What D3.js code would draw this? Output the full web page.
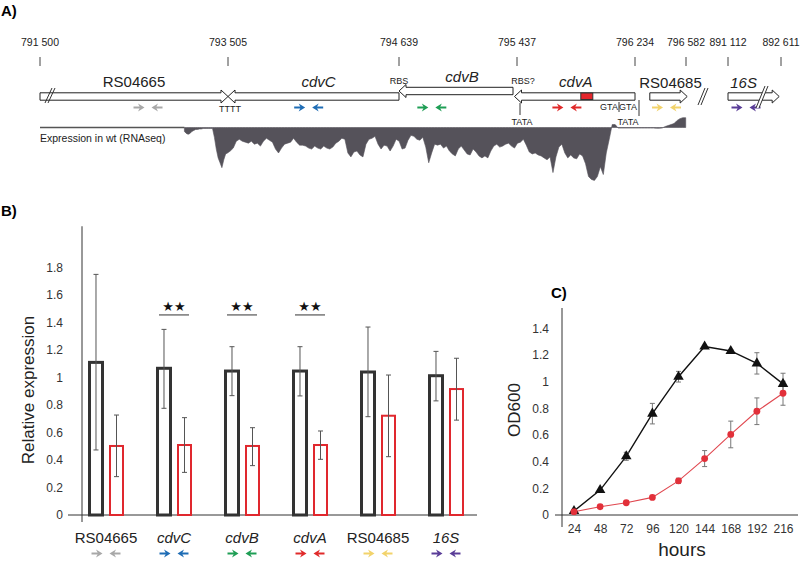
<!DOCTYPE html>
<html><head><meta charset="utf-8">
<script src="https://cdn.jsdelivr.net/npm/d3@7"></script>
<style>body{margin:0;background:#fff} svg{font-family:"Liberation Sans",Arial,sans-serif;display:block}</style>
</head><body><svg id="c" width="800" height="562"></svg>
<script>
// ---------- Panel A data ----------
const coordTicks = [791500, 793505, 794639, 795437, 796234, 796582];
const coordTicks16S = [891112, 892611];
const genes = ["RS04665", "cdvC", "cdvB", "cdvA", "RS04685", "16S"];
const geneStart = [791500, 793505, 794639, 795420, 796335, 891112];
const geneEnd = [793505, 794639, 795410, 796234, 796590, 892560];
const geneStrand = [1, -1, -1, -1, 1, 1];
const geneItalic = [false, true, true, true, false, true];
const primerCenters = [792652, 794040, 794861, 795774, 796449, 891621];
const primerColors = ["#a8a8a8", "#1f6db5", "#1f9e55", "#e02a2a", "#f2d36b", "#5a3d98"];
const covStart = 793040, covStep = 20;
const coverage = [
  4,6,7,6,4,3,2,2,1.5,1.5,
  1,1,1,1,1,1,10,22,31,36,
  41,33,27,26,24,21,14,12,14,15,
  16,14,17,16,19,14,11,13,15,22,
  26,21,17,16,15,11,15,18,18,19,
  21,22,19,21,22,19,21,22,20,16,
  14,11,12,26,30,25,24,28,30,17,
  12,11,9,17,22,18,19,24,19,12,
  14,22,21,13,8,9,12,13,10,20,
  36,26,17,18,17,21,19,24,27,29,
  22,19,23,27,28,22,25,29,31,29,
  31,24,19,17,20,19,17,16,19,21,
  16,15,12,18,25,27,26,28,29,31,
  33,30,46,30,20,17,26,31,28,31,
  32,27,29,37,50,53,54,50,40,48,
  26,12,-3,-3,0.6,0.6,0.6,0.6,0.6,0.6,
  0.6,0.6,0.6,0.6,0.6,0.6,0.6,0.8,0.8,0.5,
  -1,-2,-3,-4,-7,-9,-10,-10];
const redBoxStart = 795868, redBoxEnd = 795949;

// ---------- Panel B data ----------
const categories = genes;
const wtExpr = [1.11, 1.067, 1.047, 1.047, 1.04, 1.013];
const wtLo = [0.473, 0.776, 0.868, 0.866, 0.715, 0.83];
const wtHi = [1.75, 1.35, 1.224, 1.224, 1.367, 1.19];
const mutExpr = [0.502, 0.509, 0.502, 0.509, 0.722, 0.916];
const mutLo = [0.279, 0.31, 0.359, 0.405, 0.424, 0.69];
const mutHi = [0.727, 0.708, 0.635, 0.611, 1.018, 1.14];
const signif = ["cdvC", "cdvB", "cdvA"];
const yTicksB = [0, 0.2, 0.4, 0.6, 0.8, 1, 1.2, 1.4, 1.6, 1.8];

// ---------- Panel C data ----------
const hours = [24, 48, 72, 96, 120, 144, 168, 192, 216];
const odWt = [0.03, 0.187, 0.44, 0.76, 1.037, 1.263, 1.23, 1.137, 0.983];
const odWtErr = [0, 0, 0.03, 0.077, 0.04, 0, 0.01, 0.08, 0.08];
const odMut = [0.025, 0.062, 0.092, 0.132, 0.256, 0.423, 0.604, 0.778, 0.913];
const odMutErr = [0, 0, 0, 0, 0.02, 0.06, 0.1, 0.1, 0.09];
const yTicksC = [0, 0.2, 0.4, 0.6, 0.8, 1, 1.2, 1.4];

const svg = d3.select("#c");
const fmt = d => (d === 0 ? "0" : d3.format("~g")(d));
const fmtSpace = d => String(d).replace(/(\d{3})(\d{3})$/, "$1 $2");

function primerPair(g, cx, y, color) {
  [[-1, cx - 3.5], [1, cx + 3.5]].forEach(([dir, tip]) => {
    const tail = tip + dir * 11;
    g.append("line").attr("x1", tail).attr("x2", tip + dir * 4).attr("y1", y).attr("y2", y)
      .attr("stroke", color).attr("stroke-width", 2);
    g.append("path").attr("d",
      `M${tip},${y} L${tip + dir * 6.5},${y - 4} L${tip + dir * 4.5},${y} L${tip + dir * 6.5},${y + 4} Z`)
      .attr("fill", color);
  });
}

// ================= Panel A =================
const A = svg.append("g");
A.append("text").attr("x", 1).attr("y", 16).attr("font-size", 15).attr("font-weight", "bold").text("A)");
const xA = d3.scaleLinear().domain(coordTicks).range([40, 228, 399, 517, 635, 686]);
const xA16 = d3.scaleLinear().domain(coordTicks16S).range([728, 781]);
const xGene = bp => (bp > 800000 ? xA16(bp) : xA(bp));

const allTicks = coordTicks.concat(coordTicks16S);
allTicks.forEach(t => {
  const x = xGene(t);
  A.append("text").attr("x", x).attr("y", 46).attr("text-anchor", "middle").attr("font-size", 10.5)
    .attr("fill", "#222").text(fmtSpace(t));
  A.append("line").attr("x1", x).attr("x2", x).attr("y1", 57).attr("y2", 66).attr("stroke", "#444").attr("stroke-width", 1);
});

const laneY = [96.5, 96.5, 91, 96.5, 96.5, 96.5];
const labelY = [87, 87, 82, 87, 88, 88];
const labelDx = [0, 5, 6, 1, 2, -10];
genes.forEach((gname, i) => {
  const x0 = xGene(geneStart[i]), x1 = xGene(geneEnd[i]), y = laneY[i];
  const bh = 3.7, hh = 6.5, hl = 7;
  let d;
  if (geneStrand[i] > 0) {
    d = `M${x0},${y - bh} L${x1 - hl},${y - bh} L${x1 - hl},${y - hh} L${x1},${y} L${x1 - hl},${y + hh} L${x1 - hl},${y + bh} L${x0},${y + bh} Z`;
  } else {
    d = `M${x1},${y - bh} L${x0 + hl},${y - bh} L${x0 + hl},${y - hh} L${x0},${y} L${x0 + hl},${y + hh} L${x0 + hl},${y + bh} L${x1},${y + bh} Z`;
  }
  A.append("path").attr("d", d).attr("fill", "white").attr("fill-opacity", 0).attr("stroke", "#222").attr("stroke-width", 1);
  A.append("text").attr("x", (x0 + x1) / 2 + labelDx[i]).attr("y", labelY[i]).attr("text-anchor", "middle")
    .attr("font-size", 15).attr("font-style", geneItalic[i] ? "italic" : "normal").attr("fill", "#222").text(gname);
  primerPair(A, xGene(primerCenters[i]), 107.5, primerColors[i]);
});
// red box in cdvA
A.append("rect").attr("x", xA(redBoxStart)).attr("y", 93).attr("width", xA(redBoxEnd) - xA(redBoxStart)).attr("height", 6.5)
  .attr("fill", "#e5262c").attr("stroke", "#333").attr("stroke-width", 1);
// hatch on RS04665
A.append("path").attr("d", "M45,103 L52,88 M48,103 L55,88").attr("stroke", "#333").attr("stroke-width", 1).attr("fill", "none");
// hatch on 16S
A.append("path").attr("d", "M756,108 L765,86 L768,86 L759,108 Z").attr("fill", "white");
A.append("path").attr("d", "M756,108 L765,86 M759,108 L768,86").attr("stroke", "#333").attr("stroke-width", 1).attr("fill", "none");
// separator
A.append("path").attr("d", "M698,105 L705,88 M701,105 L708,88").attr("stroke", "#333").attr("stroke-width", 1).attr("fill", "none");

// small annotations
const small = (x, y, t, anchor = "middle") => A.append("text").attr("x", x).attr("y", y).attr("text-anchor", anchor)
  .attr("font-size", 9).attr("fill", "#222").text(t);
small(xA(793505) + 2, 112, "TTTT");
small(xA(794639), 84, "RBS");
small(xA(795437) + 6, 84, "RBS?");
small(xA(795437) + 5, 125, "TATA");
small(xA(796234) - 7, 110, "GTA");
small(xA(796234) - 26, 110, "GTA");
small(xA(796234) - 7, 125, "TATA");
A.append("line").attr("x1", xA(795437) + 3).attr("x2", xA(795437) + 3).attr("y1", 103).attr("y2", 115).attr("stroke", "#333");
A.append("line").attr("x1", xA(796234) - 16).attr("x2", xA(796234) - 16).attr("y1", 102).attr("y2", 112).attr("stroke", "#333");
A.append("line").attr("x1", xA(796234) + 4).attr("x2", xA(796234) + 4).attr("y1", 100).attr("y2", 116).attr("stroke", "#333");

// RNAseq coverage
const baseY = 127.5;
const covY = d3.scaleLinear().domain([0, 50]).range([baseY, baseY + 49]);
A.append("line").attr("x1", xA(791500)).attr("x2", xA(covStart)).attr("y1", baseY).attr("y2", baseY)
  .attr("stroke", "#555").attr("stroke-width", 1.6);
const area = d3.area().x((d, i) => xA(covStart + i * covStep)).y0(baseY).y1(d => covY(d));
A.append("path").datum(coverage).attr("d", area).attr("fill", "#55525a").attr("stroke", "#55525a").attr("stroke-width", 0.6);
A.append("text").attr("x", 40).attr("y", 142).attr("font-size", 10.5).attr("fill", "#222").text("Expression in wt (RNAseq)");

// ================= Panel B =================
const B = svg.append("g");
B.append("text").attr("x", 1).attr("y", 216).attr("font-size", 15).attr("font-weight", "bold").text("B)");
const x0B = d3.scaleBand().domain(categories).range([72, 480]).padding(0);
const x1B = d3.scaleBand().domain(["wt", "mut"]).range([17.5, 51]).paddingInner(0.366);
const yB = d3.scaleLinear().domain([0, 2.1]).range([515, 226.25]);

B.append("line").attr("x1", 82).attr("x2", 82).attr("y1", yB(2.1)).attr("y2", 522).attr("stroke", "#333").attr("stroke-width", 1);
B.append("line").attr("x1", 68).attr("x2", 477).attr("y1", yB(0)).attr("y2", yB(0)).attr("stroke", "#333").attr("stroke-width", 1);
const yAxB = B.append("g").attr("transform", "translate(63,0)")
  .call(d3.axisLeft(yB).tickValues(yTicksB).tickSize(0).tickPadding(0).tickFormat(fmt));
yAxB.select(".domain").remove();
yAxB.selectAll("text").attr("font-size", 12).attr("fill", "#333").attr("font-family", "Liberation Sans, Arial, sans-serif");
B.append("text").attr("transform", "translate(34,390) rotate(-90)").attr("text-anchor", "middle")
  .attr("font-size", 17).attr("fill", "#222").text("Relative expression");

categories.forEach((c, i) => {
  const gx = x0B(c);
  const bw = x1B.bandwidth();
  const wx = gx + x1B("wt"), mx = gx + x1B("mut");
  B.append("rect").attr("x", wx).attr("y", yB(wtExpr[i])).attr("width", bw).attr("height", yB(0) - yB(wtExpr[i]))
    .attr("fill", "white").attr("stroke", "#333").attr("stroke-width", 3);
  B.append("rect").attr("x", mx).attr("y", yB(mutExpr[i])).attr("width", bw).attr("height", yB(0) - yB(mutExpr[i]))
    .attr("fill", "white").attr("stroke", "#e0282e").attr("stroke-width", 2);
  [[wx + bw / 2, wtLo[i], wtHi[i]], [mx + bw / 2, mutLo[i], mutHi[i]]].forEach(([cx, lo, hi]) => {
    B.append("line").attr("x1", cx).attr("x2", cx).attr("y1", yB(lo)).attr("y2", yB(hi)).attr("stroke", "#555").attr("stroke-width", 1);
    [lo, hi].forEach(v => B.append("line").attr("x1", cx - 2.5).attr("x2", cx + 2.5).attr("y1", yB(v)).attr("y2", yB(v))
      .attr("stroke", "#555").attr("stroke-width", 1));
  });
  const center = gx + x0B.bandwidth() / 2;
  B.append("text").attr("x", center).attr("y", 543).attr("text-anchor", "middle").attr("font-size", 15)
    .attr("font-style", geneItalic[i] ? "italic" : "normal").attr("fill", "#222").text(c);
  primerPair(B, center, 553.5, primerColors[i]);
  if (signif.includes(c)) {
    B.append("line").attr("x1", center - 15).attr("x2", center + 15).attr("y1", yB(1.455)).attr("y2", yB(1.455))
      .attr("stroke", "#333").attr("stroke-width", 1);
    B.append("text").attr("x", center).attr("y", yB(1.455) - 4).attr("text-anchor", "middle").attr("font-size", 13)
      .attr("fill", "#111").attr("font-family", "DejaVu Sans").text("★★");
  }
});

// ================= Panel C =================
const C = svg.append("g");
C.append("text").attr("x", 551).attr("y", 298).attr("font-size", 15).attr("font-weight", "bold").text("C)");
const xC = d3.scaleLinear().domain([24, 216]).range([574, 783]);
const yC = d3.scaleLinear().domain([0, 1.4]).range([515, 328.3]);
C.append("line").attr("x1", 562).attr("x2", 562).attr("y1", 308).attr("y2", 527).attr("stroke", "#333");
C.append("line").attr("x1", 555).attr("x2", 798).attr("y1", yC(0)).attr("y2", yC(0)).attr("stroke", "#333");
const yAxC = C.append("g").attr("transform", "translate(549,0)")
  .call(d3.axisLeft(yC).tickValues(yTicksC).tickSize(0).tickPadding(0).tickFormat(fmt));
yAxC.select(".domain").remove();
yAxC.selectAll("text").attr("font-size", 12).attr("fill", "#333").attr("font-family", "Liberation Sans, Arial, sans-serif");
const xAxC = C.append("g").attr("transform", "translate(0,524)")
  .call(d3.axisBottom(xC).tickValues(hours).tickSize(0).tickPadding(0).tickFormat(d3.format("d")));
xAxC.select(".domain").remove();
xAxC.selectAll("text").attr("font-size", 12).attr("fill", "#333").attr("font-family", "Liberation Sans, Arial, sans-serif");
C.append("text").attr("x", 682).attr("y", 556).attr("text-anchor", "middle").attr("font-size", 19).attr("fill", "#222").text("hours");
C.append("text").attr("transform", "translate(520,410) rotate(-90)").attr("text-anchor", "middle")
  .attr("font-size", 17).attr("fill", "#222").text("OD600");

const line = d3.line().x((d, i) => xC(hours[i])).y(d => yC(d));
C.append("path").datum(odMut).attr("d", line).attr("fill", "none").attr("stroke", "#e0474f").attr("stroke-width", 1.1);
C.append("path").datum(odWt).attr("d", line).attr("fill", "none").attr("stroke", "#111").attr("stroke-width", 1.4);
function errBars(vals, errs) {
  vals.forEach((v, i) => {
    if (!errs[i]) return;
    const cx = xC(hours[i]);
    C.append("line").attr("x1", cx).attr("x2", cx).attr("y1", yC(v - errs[i])).attr("y2", yC(v + errs[i])).attr("stroke", "#777");
    [v - errs[i], v + errs[i]].forEach(e => C.append("line").attr("x1", cx - 2.5).attr("x2", cx + 2.5)
      .attr("y1", yC(e)).attr("y2", yC(e)).attr("stroke", "#777"));
  });
}
errBars(odWt, odWtErr);
errBars(odMut, odMutErr);
C.selectAll(".tri").data(odWt).enter().append("path").attr("class", "tri")
  .attr("d", d3.symbol(d3.symbolTriangle).size(48))
  .attr("transform", (d, i) => `translate(${xC(hours[i])},${yC(d)})`).attr("fill", "#111");
C.selectAll(".dot").data(odMut).enter().append("circle").attr("class", "dot")
  .attr("cx", (d, i) => xC(hours[i])).attr("cy", d => yC(d)).attr("r", 3.4).attr("fill", "#e2303a");
</script></body></html>
